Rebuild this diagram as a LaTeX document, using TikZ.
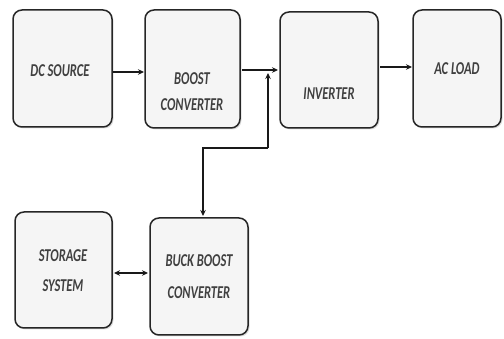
\documentclass[tikz,border=0pt]{standalone}
\usepackage{fontspec}
\setmainfont{Carlito}
\usetikzlibrary{arrows.meta,shadows}
\newcommand\tallbox[2][0pt]{\scalebox{1}[1.45]{\begin{tabular}{@{}c@{}}#2\end{tabular}}}
\begin{document}
\begin{tikzpicture}[x=1pt,y=-1pt,
  blk/.style={draw=black!85,line width=1.5pt,rounded corners=9pt,fill=black!4,
    drop shadow={shadow xshift=1.5pt,shadow yshift=-1.5pt,fill=black!25}},
  lbl/.style={font=\fontsize{12.5}{14}\selectfont\bfseries\itshape,text=black!75,align=center,inner sep=0pt},
  conn/.style={line width=1.5pt,draw=black!90,-{Stealth[length=6pt,width=5.5pt]}},
  dconn/.style={line width=1.5pt,draw=black!90,{Stealth[length=6pt,width=5.5pt]}-{Stealth[length=6pt,width=5.5pt]}}]
\useasboundingbox (0,0) rectangle (504,339);
\draw[blk] (13,10) rectangle (112,127);
\draw[blk] (145,10) rectangle (240,128);
\draw[blk] (280,12) rectangle (378,128);
\draw[blk] (413,10) rectangle (501,127);
\draw[blk] (15,212) rectangle (112,328);
\draw[blk] (150,218) rectangle (248,335);
\node[lbl] (dc) at (60,72) {\tallbox{DC SOURCE}};
\node[lbl] (boost) at (192,93.5) {\tallbox{BOOST\\[4pt]CONVERTER}};
\node[lbl] (inv) at (329,95) {\tallbox{INVERTER}};
\node[lbl] (ac) at (457,70) {\tallbox{AC LOAD}};
\node[lbl] (sto) at (63,272.5) {\tallbox{STORAGE\\[7pt]SYSTEM}};
\node[lbl] (buck) at (199,278.5) {\tallbox{BUCK BOOST\\[8.5pt]CONVERTER}};
\coordinate (dcR) at (113,72);
\coordinate (boL) at (144,72);
\coordinate (boR) at (242,70);
\coordinate (inL) at (278,70);
\coordinate (inR) at (380,67);
\coordinate (acL) at (412,67);
\coordinate (jn) at (268,73);
\coordinate (jb) at (268,148);
\coordinate (kb) at (203,148);
\coordinate (buT) at (203,216);
\coordinate (stR) at (114,273);
\coordinate (buL) at (148,273);
\draw[conn] (dcR) -- (boL);
\draw[conn] (boR) -- (inL);
\draw[conn] (inR) -- (acL);
\draw[conn] (jb) -- (jn);
\draw[conn] (jb) -- (kb) -- (buT);
\draw[dconn] (stR) -- (buL);
\end{tikzpicture}
\end{document}
